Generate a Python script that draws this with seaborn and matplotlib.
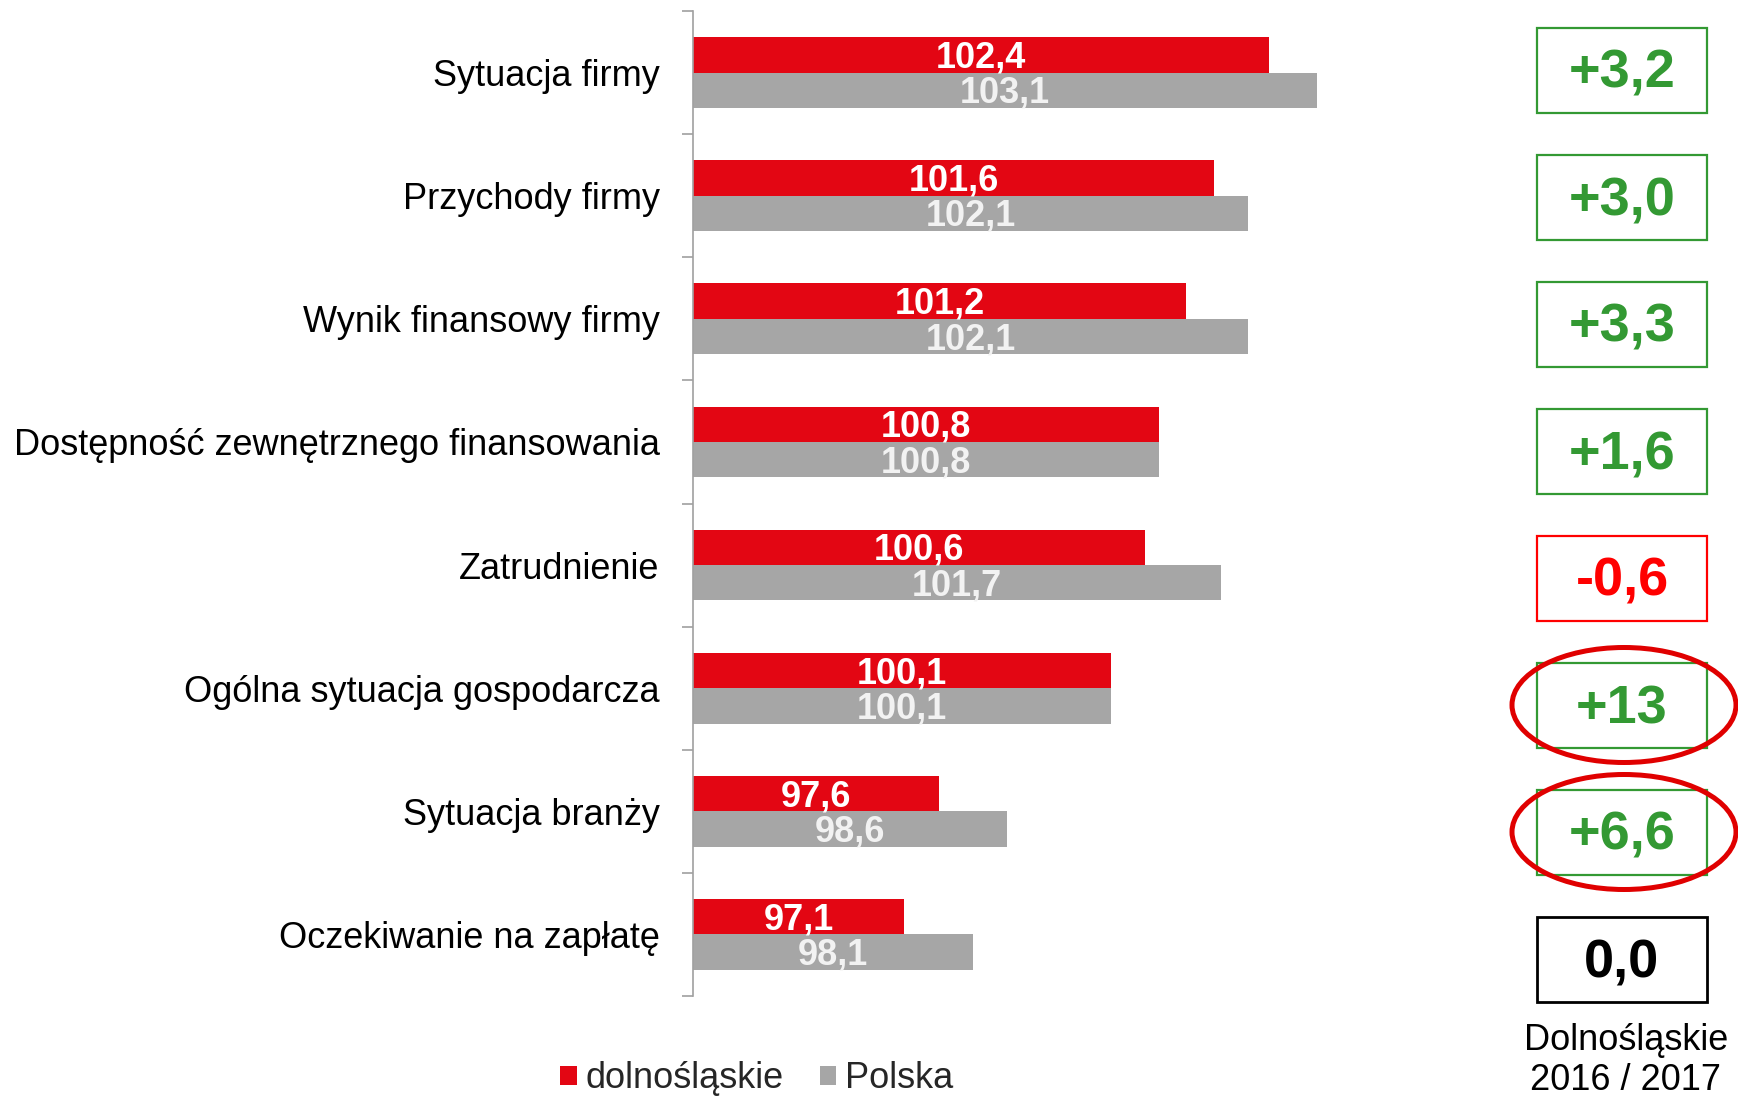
import matplotlib
matplotlib.use("Agg")
import numpy as np
import pandas as pd
import seaborn as sns
import matplotlib.pyplot as plt
from matplotlib.patches import Rectangle, Ellipse
from matplotlib.ticker import FixedLocator

# --- data -------------------------------------------------------------
categories = [
    "Sytuacja firmy",
    "Przychody firmy",
    "Wynik finansowy firmy",
    "Dostępność zewnętrznego finansowania",
    "Zatrudnienie",
    "Ogólna sytuacja gospodarcza",
    "Sytuacja branży",
    "Oczekiwanie na zapłatę",
]
series_names = ["dolnośląskie", "Polska"]
dolnoslaskie = [102.4, 101.6, 101.2, 100.8, 100.6, 100.1, 97.6, 97.1]
polska = [103.1, 102.1, 102.1, 100.8, 101.7, 100.1, 98.6, 98.1]

# change for the region between 2016 and 2017
zmiana = [3.2, 3.0, 3.3, 1.6, -0.6, 13, 6.6, 0.0]
wyroznione = ["Ogólna sytuacja gospodarcza", "Sytuacja branży"]
podpis_zmiany = ["Dolnośląskie", "2016 / 2017"]

# --- style ------------------------------------------------------------
RED = "#E30613"
GRAY = "#A6A6A6"
GREEN = "#339933"
sns.set_theme(style="white")
plt.rcParams["font.family"] = ["Liberation Sans", "DejaVu Sans"]

W, H = 1738, 1096
fig = plt.figure(figsize=(W / 100, H / 100), dpi=100)
ax = fig.add_axes([693 / W, 100 / H, 686 / W, 985 / H])

df = pd.DataFrame({
    "kategoria": categories * 2,
    "wartość": dolnoslaskie + polska,
    "seria": [series_names[0]] * len(categories) + [series_names[1]] * len(categories),
})

sns.barplot(data=df, y="kategoria", x="wartość", hue="seria",
            hue_order=series_names, palette=[RED, GRAY], orient="h",
            width=0.575, saturation=1, linewidth=0, ax=ax)

XMIN, XMAX = 94.03, 104
ax.set_xlim(XMIN, XMAX)
ax.set_ylim(len(categories) - 0.5, -0.5)
ax.set_xlabel("")
ax.set_ylabel("")
ax.set_xticks([])

for side in ("top", "right", "bottom"):
    ax.spines[side].set_visible(False)
ax.spines["left"].set_color("#A0A0A0")
ax.spines["left"].set_linewidth(1.2)

ax.tick_params(axis="y", which="major", length=0, pad=24, labelsize=26,
               labelcolor="black")
ax.yaxis.set_minor_locator(FixedLocator(np.arange(-0.5, len(categories), 1.0)))
ax.tick_params(axis="y", which="minor", left=True, length=8, width=1.2,
               color="#A0A0A0", direction="out")


def fmt(v):
    return f"{v:.1f}".replace(".", ",")


# value labels centred on the visible part of each bar
label_colors = ["white", "#F2F2F2"]
for container, values, col in zip(ax.containers, [dolnoslaskie, polska], label_colors):
    for patch, v in zip(container, values):
        y = patch.get_y() + patch.get_height() / 2 + 0.025
        ax.text((XMIN + v) / 2, y, fmt(v), ha="center", va="center",
                color=col, fontsize=26, fontweight="bold")

# legend under the bars
handles, labels = ax.get_legend_handles_labels()
if ax.get_legend() is not None:
    ax.get_legend().remove()
fig.legend(handles, labels, loc="center", bbox_to_anchor=(757 / W, 1 - 1079 / H),
           ncol=2, frameon=False, fontsize=26, handlelength=0.45,
           handleheight=0.45, handletextpad=0.25, columnspacing=1.0,
           borderaxespad=0, borderpad=0)


# change boxes on the right
def fmt_change(v):
    if v == 0:
        return "0,0"
    s = f"{abs(v):.0f}" if abs(v) >= 10 else f"{abs(v):.1f}".replace(".", ",")
    return ("+" if v > 0 else "-") + s


box_cx = 1622
box_w, box_h = 170, 85
for i, (cat, v) in enumerate(zip(categories, zmiana)):
    cy = 70 + 127 * i
    col = GREEN if v > 0 else ("#FF0000" if v < 0 else "black")
    lw = 1.6 if v != 0 else 2.0
    fig.patches.append(Rectangle(((box_cx - box_w / 2) / W, 1 - (cy + box_h / 2) / H),
                                 box_w / W, box_h / H, transform=fig.transFigure,
                                 fill=False, edgecolor=col, linewidth=lw))
    fig.text(box_cx / W, 1 - (cy + 4) / H, fmt_change(v), ha="center", va="center",
             color=col, fontsize=39, fontweight="bold")
    if cat in wyroznione:
        fig.patches.append(Ellipse((1624 / W, 1 - cy / H), 224 / W, 115 / H,
                                   transform=fig.transFigure, fill=False,
                                   edgecolor="#E00000", linewidth=3.6))

fig.text(1626 / W, 1 - 1040 / H, podpis_zmiany[0], ha="center", va="center",
         fontsize=26, color="black")
fig.text(1626 / W, 1 - 1081 / H, podpis_zmiany[1], ha="center", va="center",
         fontsize=26, color="black")

fig.savefig("out.png", dpi=100)
